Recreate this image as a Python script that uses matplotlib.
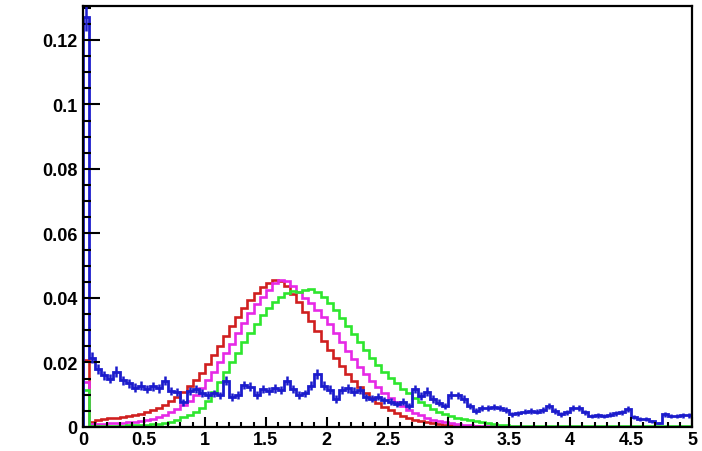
import numpy as np
import matplotlib.pyplot as plt
from matplotlib.ticker import MultipleLocator

# 100 bins of width 0.05 from 0 to 5
edges = np.linspace(0, 5, 101)

red = [0.0208, 0.0016, 0.0022, 0.0025, 0.0027, 0.0029, 0.0031, 0.0034, 0.0037, 0.0041,
       0.0046, 0.0052, 0.0060, 0.0069, 0.0080, 0.0093, 0.0108, 0.0126, 0.0146, 0.0168,
       0.0194, 0.0222, 0.0252, 0.0282, 0.0312, 0.0342, 0.0370, 0.0394, 0.0416, 0.0434,
       0.0447, 0.0455, 0.0452, 0.0438, 0.0412, 0.0386, 0.0358, 0.0328, 0.0298, 0.0268,
       0.0240, 0.0214, 0.0189, 0.0165, 0.0143, 0.0123, 0.0105, 0.0089, 0.0075, 0.0063,
       0.0052, 0.0043, 0.0035, 0.0028, 0.0022, 0.0018, 0.0014, 0.0011, 0.0008, 0.0006,
       0.0005, 0.0004, 0.0003, 0.0002, 0.0002, 0.0001, 0.0001, 0.0, 0.0, 0.0,
       0.0, 0.0, 0.0, 0.0, 0.0, 0.0, 0.0, 0.0, 0.0, 0.0,
       0.0, 0.0, 0.0, 0.0, 0.0, 0.0, 0.0, 0.0, 0.0, 0.0,
       0.0, 0.0, 0.0, 0.0, 0.0, 0.0, 0.0, 0.0, 0.0, 0.0]

magenta = [0.0140, 0.0008, 0.0009, 0.0010, 0.0011, 0.0012, 0.0013, 0.0014, 0.0016, 0.0018,
           0.0021, 0.0025, 0.0030, 0.0036, 0.0045, 0.0055, 0.0067, 0.0082, 0.0099, 0.0120,
           0.0145, 0.0172, 0.0200, 0.0228, 0.0258, 0.0290, 0.0322, 0.0352, 0.0380, 0.0404,
           0.0425, 0.0446, 0.0456, 0.0452, 0.0436, 0.0418, 0.0400, 0.0385, 0.0364, 0.0342,
           0.0318, 0.0290, 0.0262, 0.0236, 0.0210, 0.0186, 0.0163, 0.0142, 0.0123, 0.0106,
           0.0090, 0.0076, 0.0064, 0.0053, 0.0044, 0.0036, 0.0029, 0.0023, 0.0018, 0.0014,
           0.0011, 0.0009, 0.0007, 0.0005, 0.0004, 0.0003, 0.0002, 0.0002, 0.0001, 0.0001,
           0.0, 0.0, 0.0, 0.0, 0.0, 0.0, 0.0, 0.0, 0.0, 0.0,
           0.0, 0.0, 0.0, 0.0, 0.0, 0.0, 0.0, 0.0, 0.0, 0.0,
           0.0, 0.0, 0.0, 0.0, 0.0, 0.0, 0.0, 0.0, 0.0, 0.0]

green = [0.0115, 0.0003, 0.0003, 0.0003, 0.0003, 0.0004, 0.0004, 0.0005, 0.0005, 0.0006,
         0.0007, 0.0008, 0.0010, 0.0013, 0.0016, 0.0022, 0.0030, 0.0038, 0.0047, 0.0058,
         0.0082, 0.0110, 0.0140, 0.0170, 0.0200, 0.0230, 0.0262, 0.0292, 0.0320, 0.0346,
         0.0368, 0.0388, 0.0404, 0.0416, 0.0422, 0.0420, 0.0424, 0.0428, 0.0420, 0.0402,
         0.0384, 0.0362, 0.0338, 0.0314, 0.0288, 0.0262, 0.0238, 0.0215, 0.0192, 0.0172,
         0.0152, 0.0135, 0.0119, 0.0104, 0.0090, 0.0078, 0.0067, 0.0057, 0.0048, 0.0040,
         0.0034, 0.0029, 0.0025, 0.0022, 0.0019, 0.0016, 0.0012, 0.0009, 0.0007, 0.0005,
         0.0004, 0.0004, 0.0003, 0.0003, 0.0003, 0.0003, 0.0003, 0.0003, 0.0003, 0.0003,
         0.0003, 0.0003, 0.0003, 0.0003, 0.0003, 0.0003, 0.0003, 0.0003, 0.0003, 0.0003,
         0.0003, 0.0003, 0.0003, 0.0003, 0.0003, 0.0003, 0.0003, 0.0003, 0.0003, 0.0003]

blue = [0.1270, 0.0215, 0.0180, 0.0160, 0.0150, 0.0172, 0.0145, 0.0135, 0.0122, 0.0128,
        0.0118, 0.0126, 0.0120, 0.0143, 0.0112, 0.0108, 0.0077, 0.0112, 0.0118, 0.0106,
        0.0100, 0.0104, 0.0098, 0.0143, 0.0093, 0.0100, 0.0130, 0.0125, 0.0100, 0.0118,
        0.0112, 0.0120, 0.0114, 0.0143, 0.0118, 0.0100, 0.0104, 0.0128, 0.0164, 0.0128,
        0.0116, 0.0087, 0.0114, 0.0120, 0.0110, 0.0115, 0.0092, 0.0088, 0.0094, 0.0083,
        0.0078, 0.0072, 0.0078, 0.0066, 0.0118, 0.0097, 0.0110, 0.0087, 0.0075, 0.0066,
        0.0100, 0.0098, 0.0087, 0.0065, 0.0050, 0.0060, 0.0058, 0.0062, 0.0060, 0.0052,
        0.0040, 0.0042, 0.0048, 0.0050, 0.0048, 0.0052, 0.0066, 0.0050, 0.0040, 0.0045,
        0.0060, 0.0058, 0.0045, 0.0034, 0.0036, 0.0034, 0.0038, 0.0042, 0.0045, 0.0056,
        0.0030, 0.0026, 0.0024, 0.0018, 0.0012, 0.0040, 0.0034, 0.0034, 0.0036, 0.0036]

# statistical errors on the blue histogram (sqrt(N) scaled)
n_events = 7000
blue_err = np.sqrt(np.array(blue) / n_events)

fig = plt.figure(figsize=(7.02, 4.52), dpi=100)
ax = fig.add_axes([83 / 702, 24 / 452, 609 / 702, 421 / 452])

lw = 1.9
ax.stairs(red, edges, color="#d01f1f", lw=lw)
ax.stairs(magenta, edges, color="#e629e6", lw=lw)
ax.stairs(green, edges, color="#2ee62e", lw=lw)
ax.stairs(blue, edges, color="#1c1ccc", lw=2.0)
centers = 0.5 * (edges[:-1] + edges[1:])
ax.errorbar(centers, blue, yerr=blue_err, fmt="none", ecolor="#1c1ccc", elinewidth=1.8)

ax.set_xlim(0, 5)
ax.set_ylim(0, 0.1305)

ax.xaxis.set_major_locator(MultipleLocator(0.5))
ax.xaxis.set_minor_locator(MultipleLocator(0.1))
ax.yaxis.set_major_locator(MultipleLocator(0.02))
ax.yaxis.set_minor_locator(MultipleLocator(0.005))
ax.xaxis.set_major_formatter(plt.FuncFormatter(lambda v, p: f"{v:g}"))
ax.yaxis.set_major_formatter(plt.FuncFormatter(lambda v, p: f"{v:g}"))

ax.tick_params(axis="y", which="major", direction="in", length=12, width=1.5, pad=4)
ax.tick_params(axis="y", which="minor", direction="in", length=6, width=1.5)
ax.tick_params(axis="x", which="major", direction="in", length=7.5, width=1.5, pad=3)
ax.tick_params(axis="x", which="minor", direction="in", length=3.8, width=1.5)

for lab in ax.get_xticklabels() + ax.get_yticklabels():
    lab.set_fontfamily("Liberation Sans")
    lab.set_fontweight("bold")
    lab.set_fontsize(13)

for s in ax.spines.values():
    s.set_linewidth(1.6)

fig.savefig("out.png", dpi=100)
